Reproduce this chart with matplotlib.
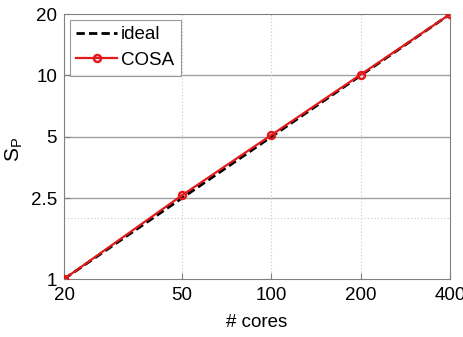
import matplotlib
matplotlib.use("Agg")
import matplotlib.pyplot as plt

cores = [20, 50, 100, 200, 400]
ideal = [1, 2.5, 5, 10, 20]
cosa = [1, 2.58, 5.1, 10.1, 20]
xticks = [20, 50, 100, 200, 400]
yticks = [1, 2.5, 5, 10, 20]
ytick_labels = ["1", "2.5", "5", "10", "20"]
minor_y = [2]

plt.rcParams['font.family'] = ['Liberation Sans', 'DejaVu Sans']
plt.rcParams['mathtext.fontset'] = 'custom'
plt.rcParams['mathtext.rm'] = 'Liberation Sans'
plt.rcParams['mathtext.it'] = 'Liberation Sans'

fig = plt.figure(figsize=(4.64, 3.37), dpi=100)
ax = fig.add_axes([0.138, 0.172, 0.832, 0.786])
ax.set_xscale('log')
ax.set_yscale('log')
ax.set_xlim(20, 400)
ax.set_ylim(1, 20)

gc = '#a0a0a0'
for y in yticks[1:-1]:
    ax.axhline(y, color=gc, lw=1.0, zorder=1)
for y in minor_y:
    ax.axhline(y, color='#c8c8c8', lw=0.8, ls=(0, (1, 2)), zorder=1)
for x in xticks[1:-1]:
    ax.axvline(x, color='#c8c8c8', lw=0.8, ls=(0, (1, 2)), zorder=1)

ax.plot(cores, ideal, color='black', ls=(0, (3, 1.5)), lw=2, label='ideal', zorder=3)
ax.plot(cores, cosa, color='#e31a1c', lw=1.6, marker='o', ms=5, mfc='none',
        mec='#e31a1c', mew=1.8, label='COSA', zorder=4)

ax.set_xticks(xticks)
ax.set_xticklabels([str(v) for v in xticks])
ax.set_yticks(yticks)
ax.set_yticklabels(ytick_labels)
ax.minorticks_off()
ax.tick_params(direction='in', length=4, color='#808080', labelsize=13.5,
               top=False, right=False)
ax.tick_params(axis='x', pad=6)
ax.tick_params(axis='y', pad=5)
for s in ax.spines.values():
    s.set_color('#808080')

ax.set_xlabel('# cores', fontsize=13.5, labelpad=7)
ax.set_ylabel(r'S$_{\mathrm{P}}$', fontsize=15)
ax.yaxis.set_label_coords(-0.1, 0.49)

leg = ax.legend(loc='upper left', fontsize=13.5, frameon=True, fancybox=False,
                edgecolor='#808080', handlelength=2.2, handletextpad=0.2,
                borderaxespad=0.3, borderpad=0.35, labelspacing=0.45)
leg.get_frame().set_linewidth(0.8)

fig.savefig('out.png', dpi=100)
